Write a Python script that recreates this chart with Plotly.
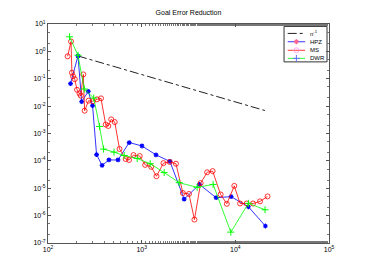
import plotly.graph_objects as go

# reference slope line n^-1
ref_n = [209, 20700]
ref_err = [0.68, 0.0069]

hpz_n = [174, 209, 229, 269, 299, 330, 378, 447, 559, 736, 1008, 1422, 2005,
         2842, 4137, 6237, 9013, 13780, 20930]
hpz_err = [0.0665, 0.677, 0.0146, 0.0343, 0.0105, 1.70e-4, 6.84e-5, 1.08e-4,
           1.08e-4, 4.68e-4, 3.50e-4, 1.66e-4, 9.53e-5, 3.98e-6, 1.38e-5,
           4.51e-6, 4.94e-6, 2.11e-6, 4.18e-7]

ms_n = [162, 176, 180, 185, 193, 204, 217, 224, 238, 246, 271, 300, 333, 368,
        413, 440, 473, 516, 580, 675, 733, 818, 953, 1091, 1264, 1439, 1709,
        1990, 2323, 2753, 3198, 3659, 4261, 5000, 5722, 6966, 8110, 9750,
        11240, 13190, 15460, 18370, 22080]
ms_err = [0.661, 2.29, 0.166, 0.124, 0.0966, 0.0395, 0.0290, 0.0240, 0.144,
          6.81e-3, 0.0158, 0.0150, 0.0177, 0.0192, 2.13e-3, 1.88e-3, 3.28e-3,
          2.62e-3, 2.73e-4, 1.17e-4, 1.08e-4, 1.63e-4, 1.50e-4, 7.13e-5,
          6.04e-5, 2.75e-5, 8.28e-5, 9.14e-5, 7.88e-5, 6.71e-6, 6.18e-6,
          7.17e-7, 1.54e-5, 3.83e-5, 4.23e-5, 5.93e-6, 2.70e-6, 1.22e-5,
          2.77e-6, 2.77e-6, 2.77e-6, 3.32e-6, 5.03e-6]

dwr_n = [170, 209, 244, 308, 355, 392, 507, 651, 896, 1233, 1739, 2513, 3910,
         5795, 8947, 13780, 20770]
dwr_err = [3.41, 0.72, 0.0422, 0.0197, 1.81e-3, 2.69e-4, 2.09e-4, 1.57e-4,
           1.22e-4, 7.88e-5, 3.73e-5, 1.60e-5, 1.08e-5, 1.38e-5, 2.50e-7,
           2.81e-6, 1.64e-6]

x_tick_exp = [2, 3, 4, 5]
y_tick_exp = [1, 0, -1, -2, -3, -4, -5, -6, -7]

legend_labels = ["n<sup>-1</sup>", "HPZ", "MS", "DWR"]

FONT = "Liberation Sans, Arial, sans-serif"
BLUE, RED, GREEN, DARK = "#0000FF", "#FF0000", "#00FF00", "#222222"

styles = [
    dict(mode="lines", line=dict(color=DARK, width=1, dash="dashdot"), marker=None),
    dict(mode="lines+markers", line=dict(color=BLUE, width=0.8),
         marker=dict(symbol="asterisk-open", size=4, line=dict(color=BLUE, width=1.2))),
    dict(mode="lines+markers", line=dict(color=RED, width=0.8),
         marker=dict(symbol="circle-open", size=5, line=dict(color=RED, width=0.8))),
    dict(mode="lines+markers", line=dict(color=GREEN, width=0.8),
         marker=dict(symbol="cross-thin-open", size=5, line=dict(color=GREEN, width=1))),
]
series = [(ref_n, ref_err), (hpz_n, hpz_err), (ms_n, ms_err), (dwr_n, dwr_err)]

fig = go.Figure()
for (xs, ys), st, lab in zip(series, styles, legend_labels):
    kw = dict(x=xs, y=ys, mode=st["mode"], line=st["line"], name=lab, showlegend=False)
    if st["marker"] is not None:
        kw["marker"] = st["marker"]
    fig.add_trace(go.Scatter(**kw))

# --- compact MATLAB-style legend (overlay axis in plot-area fractions) ---
leg_x0, leg_x1, leg_y0, leg_y1 = 0.840, 0.993, 0.827, 0.989
row_y = [0.957, 0.919, 0.880, 0.843]
line_x = [0.853, 0.915]
mark_x = 0.884
text_x = 0.927

fig.add_shape(type="rect", xref="x2", yref="y2",
              x0=leg_x0, x1=leg_x1, y0=leg_y0, y1=leg_y1,
              line=dict(color="#333333", width=1), fillcolor="white", layer="below")
for ry, st, lab in zip(row_y, styles, legend_labels):
    fig.add_trace(go.Scatter(x=line_x, y=[ry, ry], mode="lines", line=st["line"],
                             xaxis="x2", yaxis="y2", showlegend=False, hoverinfo="skip"))
    if st["marker"] is not None:
        fig.add_trace(go.Scatter(x=[mark_x], y=[ry], mode="markers", marker=st["marker"],
                                 xaxis="x2", yaxis="y2", showlegend=False, hoverinfo="skip"))
    fig.add_annotation(x=text_x, y=ry, xref="paper", yref="paper", text=lab,
                       showarrow=False, xanchor="left", yanchor="middle",
                       font=dict(family=FONT, size=6, color="#000000"))

axis_common = dict(
    type="log", showgrid=False, zeroline=False,
    showline=True, linecolor="#555555", linewidth=1, mirror="allticks",
    ticks="inside", ticklen=3, tickcolor="#555555", tickwidth=1,
    tickfont=dict(family=FONT, size=7, color="#000000"),
    minor=dict(ticks="inside", ticklen=2, tickcolor="#777777", showgrid=False),
)

fig.update_xaxes(range=[2, 5], tickvals=[10.0 ** e for e in x_tick_exp],
                 ticktext=[f"10<sup>{e}</sup>" for e in x_tick_exp], **axis_common)
fig.update_yaxes(range=[-7, 1], tickvals=[10.0 ** e for e in y_tick_exp],
                 ticktext=[f"10<sup>{e}</sup>" for e in y_tick_exp], **axis_common)

# page body has an 8px default margin, so the figure is sized to fit the window
fig.update_layout(
    width=357, height=265,
    margin=dict(l=40, r=36, t=12, b=30),
    paper_bgcolor="white", plot_bgcolor="white",
    title=dict(text="Goal Error Reduction", x=0.5056, xanchor="center",
               y=0.981, yanchor="middle",
               font=dict(family=FONT, size=7, color="#000000")),
    showlegend=False,
    xaxis2=dict(overlaying="x", range=[0, 1], visible=False, fixedrange=True),
    yaxis2=dict(overlaying="y", range=[0, 1], visible=False, fixedrange=True),
)

fig.write_html("out.html")
